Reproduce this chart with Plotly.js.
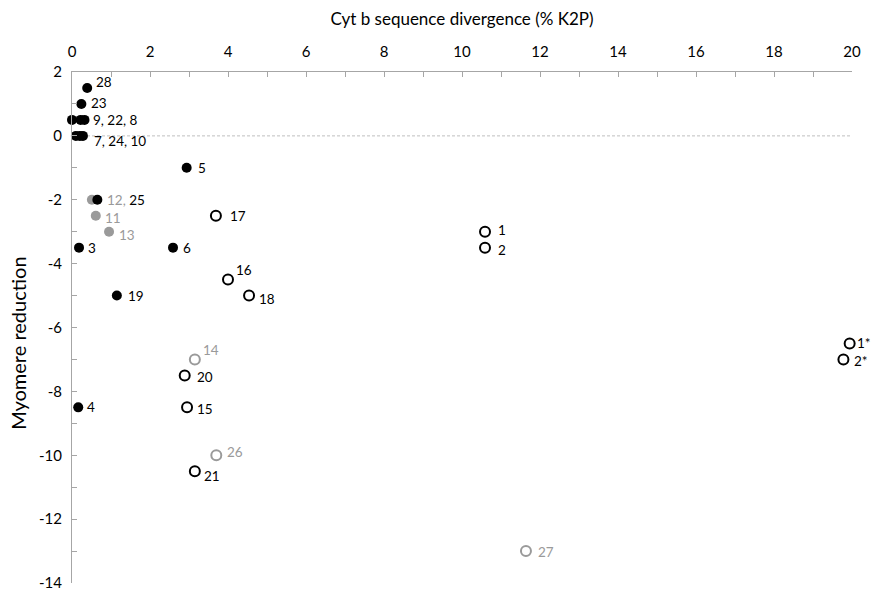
<!DOCTYPE html>
<html>
<head>
<meta charset="utf-8">
<script src="https://cdn.plot.ly/plotly-3.0.1.min.js"></script>
<style>html,body{margin:0;padding:0;background:#fff;}#chart{width:874px;height:593px;}</style>
</head>
<body>
<div id="chart"></div>
<script>
// ---- data ----
// Black filled points
const blackFilledX = [0.39, 0.24, 0.0, 0.22, 0.32, 0.1, 0.2, 0.28, 2.94, 0.65, 0.18, 2.59, 1.15, 0.16];
const blackFilledY = [1.5, 1.0, 0.5, 0.5, 0.5, 0, 0, 0, -1, -2, -3.5, -3.5, -5, -8.5];
const blackFilledText = ['28', '23', '', '', '9, 22, 8', '', '', '7, 24, 10', '5',
  '<span style="color:#999999">12,</span> 25', '3', '6', '19', '4'];

// Grey filled points
const greyFilledX = [0.51, 0.61, 0.95];
const greyFilledY = [-2, -2.5, -3];
const greyFilledText = ['', '11', '13'];

// Black open points
const blackOpenX = [3.69, 4.0, 4.54, 2.89, 2.95, 3.15, 10.59, 10.59, 19.94, 19.78];
const blackOpenY = [-2.5, -4.5, -5, -7.5, -8.5, -10.5, -3, -3.5, -6.5, -7];
const blackOpenText = ['17', '16', '18', '20', '15', '21', '1', '2', '1*', '2*'];

// Grey open points
const greyOpenX = [3.15, 3.7, 11.64];
const greyOpenY = [-7, -10, -13];
const greyOpenText = ['14', '26', '27'];

// Axis ticks
const yTickVals = [2, 0, -2, -4, -6, -8, -10, -12, -14];
const yTickText = ['2', '0', '-2', '-4', '-6', '-8', '-10', '-12', '-14'];

// ---- label offsets (styling, pixels) ----
const blackFilledShift = [[7, 6], [8, 1], [0, 0], [0, 0], [7, 0], [0, 0], [0, 0], [9, -5], [9, 0], [8, 0], [7, 0], [8, 0], [9, 0], [7, 0]];
const greyFilledShift = [[0, 0], [7, -2], [8, -3]];
const blackOpenShift = [[12, 0], [6, 10], [8, -3], [10, -2], [8, -2], [7, -5], [11, 2], [11, -2], [5, 0], [9, -2]];
const greyOpenShift = [[6, 9], [9, 3], [10, -1]];

const FONT = 'Lato, "Open Sans", sans-serif';
const BLACK = '#000000';
const GREY = '#9a9a9a';

function trace(x, y, filled, color) {
  return {
    type: 'scatter', mode: 'markers', x: x, y: y,
    cliponaxis: false, hoverinfo: 'skip',
    marker: filled
      ? {symbol: 'circle', size: 10, color: color, line: {width: 0}}
      : {symbol: 'circle-open', size: 10, color: color, line: {width: 2, color: color}}
  };
}

function labels(x, y, text, shift, color) {
  const out = [];
  for (let i = 0; i < x.length; i++) {
    if (!text[i]) continue;
    out.push({
      x: x[i], y: y[i], xref: 'x', yref: 'y', text: text[i], showarrow: false,
      xanchor: 'left', yanchor: 'middle', xshift: shift[i][0], yshift: shift[i][1],
      font: {family: FONT, size: 13.5, color: color}
    });
  }
  return out;
}

const data = [
  trace(greyFilledX, greyFilledY, true, GREY),
  trace(blackFilledX, blackFilledY, true, BLACK),
  trace(blackOpenX, blackOpenY, false, BLACK),
  trace(greyOpenX, greyOpenY, false, GREY)
];

const annotations = [].concat(
  labels(blackFilledX, blackFilledY, blackFilledText, blackFilledShift, BLACK),
  labels(greyFilledX, greyFilledY, greyFilledText, greyFilledShift, GREY),
  labels(blackOpenX, blackOpenY, blackOpenText, blackOpenShift, BLACK),
  labels(greyOpenX, greyOpenY, greyOpenText, greyOpenShift, GREY),
  [{
    xref: 'paper', yref: 'paper', x: 0, y: 0.468, xshift: -54,
    text: 'Myomere reduction', textangle: -90, showarrow: false,
    xanchor: 'center', yanchor: 'middle',
    font: {family: FONT, size: 20, color: '#000'}
  }]
);

const layout = {
  width: 874, height: 593,
  margin: {l: 72, r: 22, t: 72, b: 10},
  paper_bgcolor: '#ffffff', plot_bgcolor: '#ffffff',
  showlegend: false,
  font: {family: FONT, color: '#000'},
  xaxis: {
    side: 'top', range: [0, 20], dtick: 2, tick0: 0,
    showgrid: false, zeroline: false,
    showline: true, linecolor: '#a6a6a6', linewidth: 1,
    ticks: 'inside', ticklen: 5, tickcolor: '#a6a6a6',
    minor: {dtick: 1, tick0: 0, ticks: 'inside', ticklen: 5, tickcolor: '#a6a6a6', showgrid: false},
    tickfont: {family: FONT, size: 15, color: '#000'},
    ticklabelstandoff: 8,
    title: {text: 'Cyt b sequence divergence (% K2P)', font: {family: FONT, size: 17, color: '#000'}, standoff: 12}
  },
  yaxis: {
    range: [-14, 2], tickmode: 'array', tickvals: yTickVals, ticktext: yTickText,
    showgrid: false, zeroline: false,
    showline: true, linecolor: '#a6a6a6', linewidth: 1,
    ticks: 'inside', ticklen: 5, tickcolor: '#a6a6a6',
    minor: {tickmode: 'linear', dtick: 1, tick0: 0, ticks: 'inside', ticklen: 5, tickcolor: '#a6a6a6', showgrid: false},
    tickfont: {family: FONT, size: 15, color: '#000'},
    ticklabelstandoff: 6
  },
  annotations: annotations,
  shapes: [{
    type: 'line', xref: 'paper', x0: 0, x1: 1, yref: 'y', y0: 0, y1: 0,
    line: {color: '#bfbfbf', width: 1, dash: '3px,2px'}, layer: 'below'
  }]
};

Plotly.newPlot('chart', data, layout, {displayModeBar: false, staticPlot: true});
</script>
</body>
</html>
